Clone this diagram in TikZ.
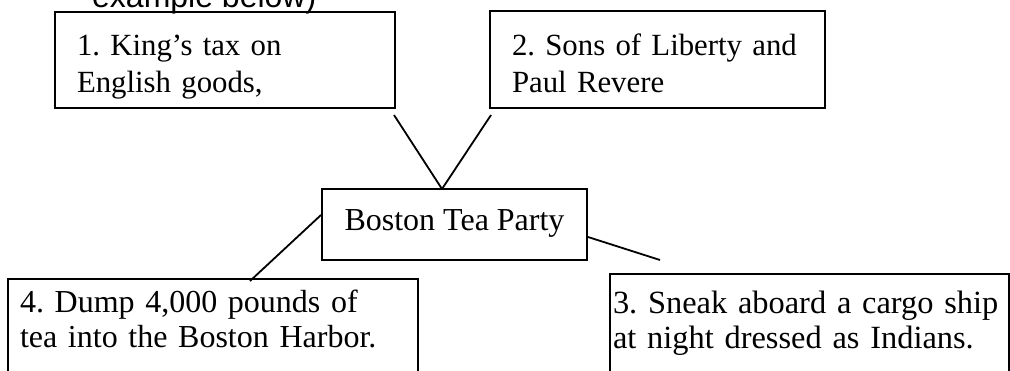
\documentclass[tikz,border=0pt]{standalone}
\usepackage{fontspec}
\setmainfont{Liberation Serif}
\newfontfamily\headfont{Liberation Sans}
\usetikzlibrary{calc}
% invisible struts that fix the space above the first and below the last line
\newcommand{\topgap}[1]{\rule{0pt}{#1}}
\newcommand{\botgap}[1]{\rule[-#1]{0pt}{#1}}
\begin{document}
\frenchspacing
\begin{tikzpicture}[x=1pt,y=-1pt,
  box/.style={draw, line width=2pt, anchor=north west, outer sep=0pt,
    inner ysep=0pt, align=left},
  link/.style={line width=1.8pt}]
\useasboundingbox (0,0) rectangle (1010,370);
\clip (0,0) rectangle (1010,370);

% heading line, cut at the top
\node[anchor=base west, inner sep=0pt, font=\headfont\fontsize{32}{38}\selectfont]
  (head) at (92,7.5) {example below)};

% causes
\node[box, inner xsep=22pt, text width=296pt, font=\fontsize{30.8}{37}\selectfont]
  (b1) at (55,12) {\topgap{43pt}1. King’s tax on\\English goods,\botgap{16pt}};
\node[box, inner xsep=20pt, text width=295pt, font=\fontsize{30.8}{37}\selectfont]
  (b2) at (490,11) {\topgap{44pt}\hspace*{2pt}2. Sons of Liberty and\\\hspace*{2pt}Paul Revere\botgap{16pt}};

% central event
\node[box, inner xsep=0pt, minimum width=265pt, font=\fontsize{32}{37}\selectfont]
  (c) at (322,189) {\topgap{41pt}Boston Tea Party\botgap{30pt}};

% effects
\node[box, inner xsep=12pt, text width=386pt, font=\fontsize{32}{35}\selectfont]
  (b4) at (8,279) {\topgap{33pt}4. Dump 4,000 pounds of\\tea into the Boston Harbor.\botgap{60pt}};
\node[box, inner xsep=3pt, text width=393pt, font=\fontsize{32.4}{35}\selectfont]
  (b3) at (610,274) {\topgap{39pt}3. Sneak aboard a cargo ship\\at night dressed as Indians.\botgap{60pt}};

% connectors
\coordinate (tail) at (660,260);
\draw[link] ($(b1.south east)+(-1,7)$) -- ($(c.north west)+(120,0)$);
\draw[link] ($(b2.south west)+(1,7)$) -- ($(c.north west)+(120,0)$);
\draw[link] ($(c.west)+(-1,-9.5)$) -- ($(b4.north west)+(242,2)$);
\draw[link] ($(c.east)+(1,12.5)$) -- (tail);
\end{tikzpicture}
\end{document}
